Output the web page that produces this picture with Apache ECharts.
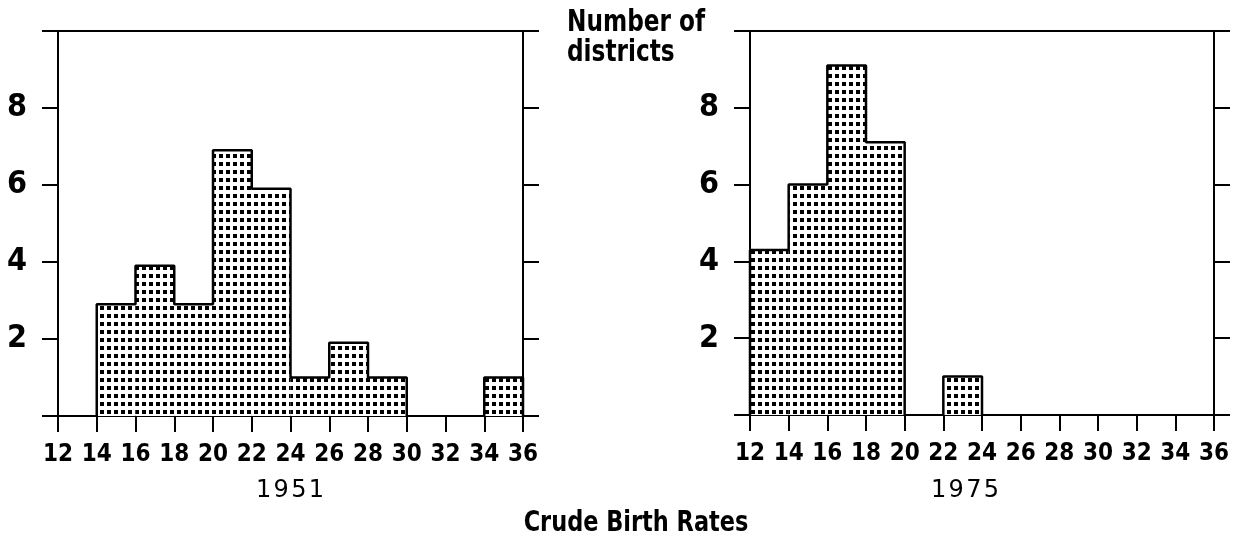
<!DOCTYPE html>
<html>
<head>
<meta charset="utf-8">
<script src="https://cdn.jsdelivr.net/npm/echarts@6/dist/echarts.min.js"></script>
<style>
html,body{margin:0;padding:0;background:#fff;}
#chart{width:1234px;height:539px;}
</style>
</head>
<body>
<div id="chart"></div>
<script>
// ---- data ----
const binWidth = 2;
const bins1951 = [14, 16, 18, 20, 22, 24, 26, 28, 34];
const counts1951 = [2.9, 3.9, 2.9, 6.9, 5.9, 1, 1.9, 1, 1];
const bins1975 = [12, 14, 16, 18, 22];
const counts1975 = [4.3, 6, 9.1, 7.1, 1];
const xTicks = [12, 14, 16, 18, 20, 22, 24, 26, 28, 30, 32, 34, 36];
const yTickLabels = [2, 4, 6, 8];
const panelLabels = ['1951', '1975'];
const yTitle = 'Number of\ndistricts';
const xTitle = 'Crude Birth Rates';

// ---- dotted fill pattern ----
const pc = document.createElement('canvas');
pc.width = 7; pc.height = 8;
const pctx = pc.getContext('2d');
pctx.fillStyle = '#fff'; pctx.fillRect(0, 0, 7, 8);
pctx.fillStyle = '#000'; pctx.fillRect(2, 2, 4, 4);
const pattern = { image: pc, repeat: 'repeat' };

const FONT = "'Liberation Sans Narrow', 'DejaVu Sans Condensed', 'Liberation Sans', sans-serif";

function outline(bins, counts) {
  const pts = [];
  let prevEnd = null;
  for (let i = 0; i < bins.length; i++) {
    const x0 = bins[i], x1 = bins[i] + binWidth, h = counts[i];
    if (prevEnd === null || x0 !== prevEnd) {
      if (prevEnd !== null) { pts.push([prevEnd, 0]); pts.push([null, null]); }
      pts.push([x0, 0]);
    }
    pts.push([x0, h]);
    pts.push([x1, h]);
    prevEnd = x1;
  }
  pts.push([prevEnd, 0]);
  return pts;
}

function barData(bins, counts) {
  return bins.map((b, i) => [b, b + binWidth, counts[i]]);
}

const chart = echarts.init(document.getElementById('chart'), null, { renderer: 'canvas' });

const grids = [
  { left: 58, top: 31, width: 465, height: 385 },
  { left: 750, top: 31, width: 464, height: 384 }
];

const xAxes = [], yAxes = [], series = [];
const axisLineStyle = { color: '#000', width: 2 };
[0, 1].forEach(g => {
  xAxes.push({
    gridIndex: g, type: 'value', position: 'bottom', min: 12, max: 36, interval: 2,
    axisLine: { show: true, onZero: false, lineStyle: axisLineStyle },
    axisTick: { show: true, inside: false, length: 16, lineStyle: { color: '#000', width: 2 } },
    axisLabel: { show: true, color: '#000', fontFamily: FONT, fontWeight: 'bold', fontSize: 24, margin: 27,
      formatter: v => xTicks.indexOf(v) >= 0 ? String(v) : '' },
    splitLine: { show: false }
  });
  xAxes.push({
    gridIndex: g, type: 'value', position: 'top', min: 12, max: 36, interval: 2,
    axisLine: { show: true, onZero: false, lineStyle: axisLineStyle },
    axisTick: { show: false }, axisLabel: { show: false }, splitLine: { show: false }
  });
  yAxes.push({
    gridIndex: g, type: 'value', position: 'left', min: 0, max: 10, interval: 2,
    axisLine: { show: true, onZero: false, lineStyle: axisLineStyle },
    axisTick: { show: true, inside: false, length: 16, lineStyle: { color: '#000', width: 2 } },
    axisLabel: { show: true, color: '#000', fontFamily: FONT, fontWeight: 'bold', fontSize: 32, margin: 31,
      formatter: v => yTickLabels.indexOf(v) >= 0 ? String(v) : '' },
    splitLine: { show: false }
  });
  yAxes.push({
    gridIndex: g, type: 'value', position: 'right', min: 0, max: 10, interval: 2,
    axisLine: { show: true, onZero: false, lineStyle: axisLineStyle },
    axisTick: { show: true, inside: false, length: 16, lineStyle: { color: '#000', width: 2 } },
    axisLabel: { show: false }, splitLine: { show: false }
  });
});

[[bins1951, counts1951], [bins1975, counts1975]].forEach(([bins, counts], g) => {
  series.push({
    type: 'custom', xAxisIndex: g * 2, yAxisIndex: g * 2,
    data: barData(bins, counts),
    renderItem: function (params, api) {
      const p0 = api.coord([api.value(0), api.value(2)]);
      const p1 = api.coord([api.value(1), 0]);
      return { type: 'rect', shape: { x: p0[0], y: p0[1], width: p1[0] - p0[0], height: p1[1] - p0[1] },
        style: { fill: pattern, stroke: null } };
    },
    silent: true, animation: false
  });
  series.push({
    type: 'line', xAxisIndex: g * 2, yAxisIndex: g * 2,
    data: outline(bins, counts), connectNulls: false,
    symbol: 'none', lineStyle: { color: '#000', width: 2.5 }, silent: true, animation: false
  });
});

chart.setOption({
  backgroundColor: '#fff',
  animation: false,
  grid: grids,
  xAxis: xAxes,
  yAxis: yAxes,
  series: series,
  graphic: [
    { type: 'text', x: 567, y: 8, scaleX: 0.86, style: { text: yTitle, fontFamily: FONT, fontWeight: 'bold', fontSize: 30, lineHeight: 30, fill: '#000', align: 'left', verticalAlign: 'top' } },
    { type: 'text', x: 290, y: 491, style: { text: panelLabels[0].split('').join('\u200a'), fontFamily: "'DejaVu Sans', sans-serif", fontSize: 24, fill: '#000', align: 'center', verticalAlign: 'middle' } },
    { type: 'text', x: 965, y: 491, style: { text: panelLabels[1].split('').join('\u200a'), fontFamily: "'DejaVu Sans', sans-serif", fontSize: 24, fill: '#000', align: 'center', verticalAlign: 'middle' } },
    { type: 'text', x: 636, y: 523, scaleX: 0.86, style: { text: xTitle, fontFamily: FONT, fontWeight: 'bold', fontSize: 29, fill: '#000', align: 'center', verticalAlign: 'middle' } }
  ]
});
</script>
</body>
</html>
